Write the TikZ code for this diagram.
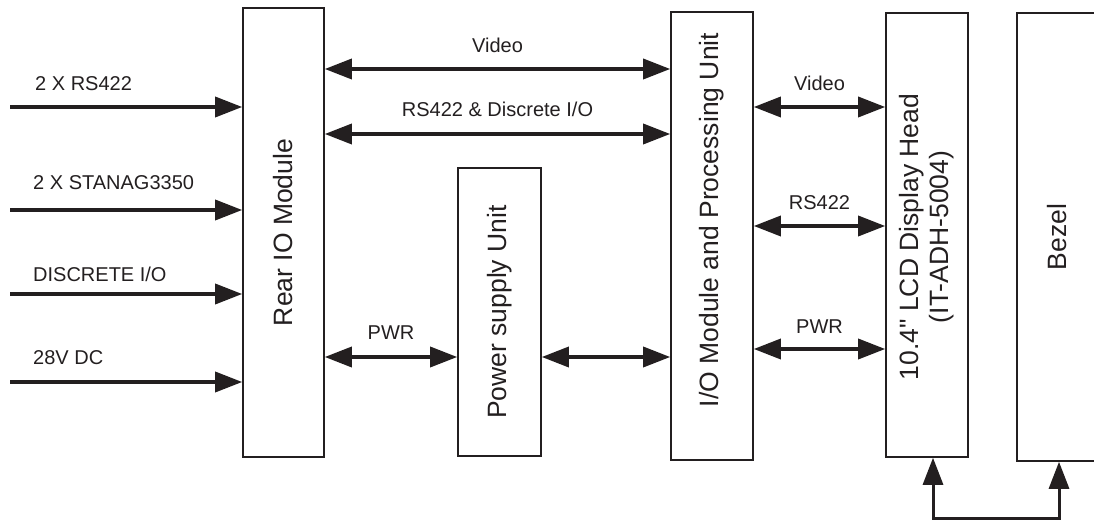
\documentclass[tikz,border=0pt]{standalone}
\usepackage{fontspec}
\setmainfont{Liberation Sans}
\usetikzlibrary{arrows.meta}
\definecolor{ink}{HTML}{231F20}
\begin{document}
\begin{tikzpicture}[x=1pt,y=-1pt,
    unit/.style={draw=ink, line width=1.6pt, rectangle, inner sep=0pt},
    unittext/.style={rotate=90, text=ink, font=\fontsize{26.5}{30}\selectfont, align=center, inner sep=0pt},
    lbl/.style={text=ink, font=\fontsize{20}{24}\selectfont, inner sep=0pt},
    bus/.style={draw=ink, line width=3.5pt, {Triangle[length=27pt,width=20pt]}-{Triangle[length=27pt,width=20pt]}},
    feed/.style={draw=ink, line width=3.5pt, -{Triangle[length=27pt,width=20pt]}}]
\useasboundingbox (0,0) rectangle (1094,521);

% blocks
\node[unit, minimum width=81pt, minimum height=449pt] (rear) at (283.5,232.5) {};
\node[unit, minimum width=83pt, minimum height=288pt] (psu) at (499.5,312) {};
\node[unit, minimum width=82pt, minimum height=448pt] (io) at (712,236) {};
\node[unit, minimum width=82pt, minimum height=444pt] (lcd) at (927,235) {};
\node[unit, minimum width=80pt, minimum height=448pt] (bezel) at (1057,237) {};

\node[unittext] (reartxt) at (rear.center) {Rear IO Module};
\node[unittext] (psutxt) at (psu.center) {Power supply Unit};
\node[unittext] (iotxt) at ([yshift=16pt]io.center) {I/O Module and Processing Unit};
\node[unittext] (lcdtxt) at ([yshift=-2pt]lcd.center) {10.4\textquotedbl{} LCD Display Head\\(IT-ADH-5004)};
\node[unittext] (bezeltxt) at (bezel.center) {Bezel};

% inputs
\coordinate (in1) at (10,107);
\coordinate (in2) at (10,210);
\coordinate (in3) at (10,294);
\coordinate (in4) at (10,382);
\draw[feed] (in1) -- (rear.west |- in1);
\draw[feed] (in2) -- (rear.west |- in2);
\draw[feed] (in3) -- (rear.west |- in3);
\draw[feed] (in4) -- (rear.west |- in4);
\node[lbl, anchor=west] (l1) at (35,84) {2 X RS422};
\node[lbl, anchor=west] (l2) at (33,183) {2 X STANAG3350};
\node[lbl, anchor=west] (l3) at (33,274) {DISCRETE I/O};
\node[lbl, anchor=west] (l4) at (33,358) {28V DC};

% links
\coordinate (yvid) at (0,69);
\coordinate (yrs) at (0,134);
\coordinate (ypwr) at (0,357);
\draw[bus] (rear.east |- yvid) -- (io.west |- yvid) node[lbl, midway, yshift=24pt] (tvid) {Video};
\draw[bus] (rear.east |- yrs) -- (io.west |- yrs) node[lbl, midway, yshift=25pt] (trs) {RS422 \& Discrete I/O};
\draw[bus] (rear.east |- ypwr) -- (psu.west |- ypwr) node[lbl, midway, yshift=24pt] (tpwr) {PWR};
\draw[bus] (psu.east |- ypwr) -- (io.west |- ypwr);

\coordinate (yvid2) at (0,107);
\coordinate (yrs2) at (0,226);
\coordinate (ypwr2) at (0,349);
\draw[bus] (io.east |- yvid2) -- (lcd.west |- yvid2) node[lbl, midway, yshift=24pt] (tvid2) {Video};
\draw[bus] (io.east |- yrs2) -- (lcd.west |- yrs2) node[lbl, midway, yshift=23pt] (trs2) {RS422};
\draw[bus] (io.east |- ypwr2) -- (lcd.west |- ypwr2) node[lbl, midway, yshift=22pt] (tpwr2) {PWR};

% loop under display and bezel
\coordinate (lp1) at (933,518);
\coordinate (lp2) at (1059,518);
\draw[bus, line width=3pt] (lcd.south -| lp1) -- (lp1) -- (lp2) -- (bezel.south -| lp2);
\end{tikzpicture}
\end{document}
